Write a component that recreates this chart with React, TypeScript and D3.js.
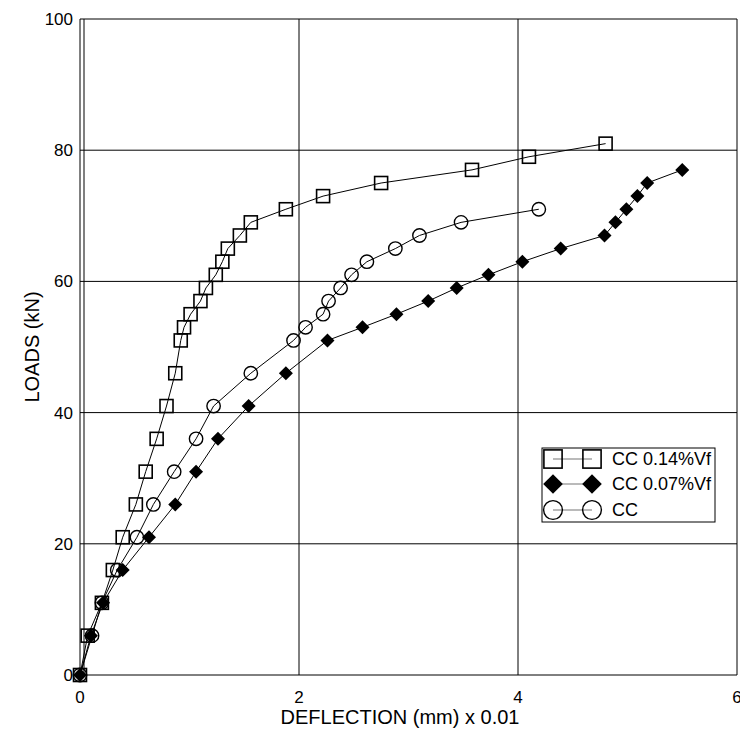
import { useEffect, useRef } from "react";
import * as d3 from "d3";

// CC 0.14%Vf (squares)
const sqX = [0, 0.07, 0.2, 0.3, 0.39, 0.51, 0.6, 0.7, 0.79, 0.87, 0.92, 0.95, 1.01, 1.1, 1.15, 1.24, 1.3, 1.35, 1.46, 1.56, 1.88, 2.22, 2.75, 3.58, 4.1, 4.8];
const sqY = [0, 6, 11, 16, 21, 26, 31, 36, 41, 46, 51, 53, 55, 57, 59, 61, 63, 65, 67, 69, 71, 73, 75, 77, 79, 81];

// CC 0.07%Vf (diamonds)
const dmX = [0, 0.1, 0.21, 0.39, 0.63, 0.87, 1.06, 1.26, 1.54, 1.88, 2.26, 2.58, 2.89, 3.18, 3.44, 3.73, 4.04, 4.39, 4.79, 4.89, 4.99, 5.09, 5.18, 5.5];
const dmY = [0, 6, 11, 16, 21, 26, 31, 36, 41, 46, 51, 53, 55, 57, 59, 61, 63, 65, 67, 69, 71, 73, 75, 77];

// CC (circles)
const ccX = [0, 0.11, 0.2, 0.34, 0.52, 0.67, 0.86, 1.06, 1.22, 1.56, 1.95, 2.06, 2.22, 2.27, 2.38, 2.48, 2.62, 2.88, 3.1, 3.48, 4.19];
const ccY = [0, 6, 11, 16, 21, 26, 31, 36, 41, 46, 51, 53, 55, 57, 59, 61, 63, 65, 67, 69, 71];

const xTicks = [0, 2, 4, 6];
const yTicks = [0, 20, 40, 60, 80, 100];
const seriesNames = ["CC 0.14%Vf", "CC 0.07%Vf", "CC"];

const font = "'Liberation Sans', Arial, sans-serif";

export default function App() {
    const ref = useRef<SVGSVGElement>(null);

    useEffect(() => {
        const svg = d3.select(ref.current);
        svg.selectAll("*").remove();

        const x = d3.scaleLinear().domain([0, 6]).range([80, 737]);
        const y = d3.scaleLinear().domain([0, 100]).range([675, 19]);

        const g = svg.append("g");

        // grid
        g.selectAll(".gx").data(xTicks.slice(1)).enter().append("line")
            .attr("x1", d => x(d)).attr("x2", d => x(d))
            .attr("y1", y(0)).attr("y2", y(100))
            .attr("stroke", "#000").attr("stroke-width", 1);
        g.selectAll(".gy").data(yTicks).enter().append("line")
            .attr("x1", x(0)).attr("x2", x(6))
            .attr("y1", d => y(d)).attr("y2", d => y(d))
            .attr("stroke", "#000").attr("stroke-width", 1);
        // double left edge
        g.append("line").attr("x1", x(0)).attr("x2", x(0)).attr("y1", y(0)).attr("y2", y(100)).attr("stroke", "#000");
        g.append("line").attr("x1", x(0) + 4).attr("x2", x(0) + 4).attr("y1", y(0)).attr("y2", y(100)).attr("stroke", "#000");

        // tick labels
        g.selectAll(".ty").data(yTicks).enter().append("text")
            .attr("x", x(0) - 7).attr("y", d => y(d)).attr("dy", "0.35em")
            .attr("text-anchor", "end").style("font-family", font).style("font-size", "17px")
            .text(d => d);
        g.selectAll(".tx").data(xTicks).enter().append("text")
            .attr("x", d => x(d)).attr("y", 703)
            .attr("text-anchor", "middle").style("font-family", font).style("font-size", "17px")
            .text(d => d);

        g.append("text").attr("x", 400).attr("y", 724).attr("text-anchor", "middle")
            .style("font-family", font).style("font-size", "20px").text("DEFLECTION (mm) x 0.01");
        g.append("text").attr("transform", `translate(39,${y(50)}) rotate(-90)`).attr("text-anchor", "middle")
            .style("font-family", font).style("font-size", "20px").text("LOADS (kN)");

        const line = d3.line<[number, number]>().x(d => x(d[0])).y(d => y(d[1]));
        const sets: [number, number][][] = [
            sqX.map((v, i) => [v, sqY[i]]),
            dmX.map((v, i) => [v, dmY[i]]),
            ccX.map((v, i) => [v, ccY[i]]),
        ];

        const marker = (sel: any, kind: number, s: number) => {
            if (kind === 0) {
                sel.append("rect").attr("x", -6.5 * s).attr("y", -6.5 * s).attr("width", 13 * s).attr("height", 13 * s)
                    .attr("fill", "none").attr("stroke", "#000").attr("stroke-width", 1.6);
            } else if (kind === 1) {
                const h = 7 * s;
                sel.append("path").attr("d", `M0,${-h}L${h},0L0,${h}L${-h},0Z`).attr("fill", "#000");
            } else {
                sel.append("circle").attr("r", 6.7 * s).attr("fill", "none").attr("stroke", "#000").attr("stroke-width", 1.4);
            }
        };

        sets.forEach((data, k) => {
            g.append("path").datum(data).attr("d", line).attr("fill", "none").attr("stroke", "#000").attr("stroke-width", 1);
            data.forEach(d => {
                const m = g.append("g").attr("transform", `translate(${x(d[0])},${y(d[1])})`);
                marker(m, k, 1);
            });
        });

        // legend
        const lg = g.append("g");
        lg.append("rect").attr("x", 542).attr("y", 448).attr("width", 173).attr("height", 74)
            .attr("fill", "#fff").attr("stroke", "#000").attr("stroke-width", 1);
        const rows = [459, 484, 510];
        seriesNames.forEach((name, k) => {
            lg.append("line").attr("x1", 553).attr("x2", 592).attr("y1", rows[k]).attr("y2", rows[k])
                .attr("stroke", "#777").attr("stroke-width", 1.2);
            marker(lg.append("g").attr("transform", `translate(553,${rows[k]})`), k, 1.4);
            marker(lg.append("g").attr("transform", `translate(592,${rows[k]})`), k, 1.4);
            lg.append("text").attr("x", 612).attr("y", rows[k]).attr("dy", "0.35em")
                .style("font-family", font).style("font-size", "18px").text(name);
        });
    }, []);

    return (
        <svg ref={ref} width={740} height={733} style={{ position: "absolute", left: 0, top: 0, background: "#fff" }}></svg>
    );
}
